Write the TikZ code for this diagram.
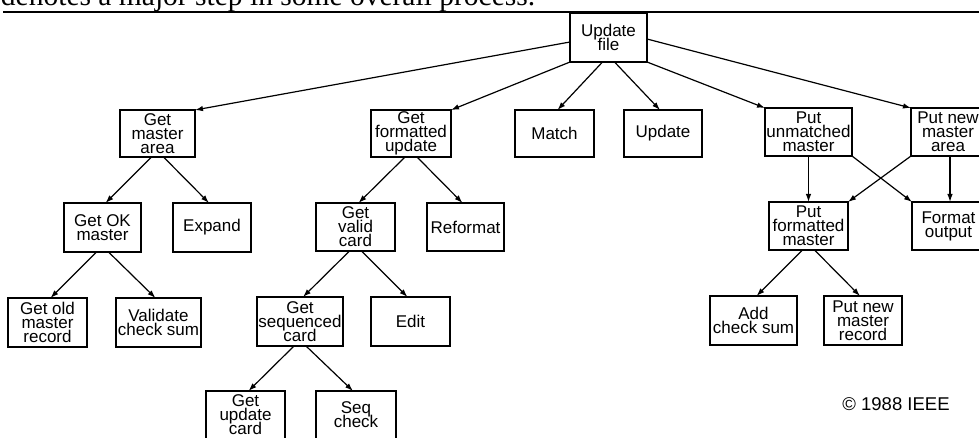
\documentclass[tikz,border=0pt]{standalone}
\usepackage{fontspec}
\setmainfont{Liberation Serif}
\setsansfont{Liberation Sans}
\usepackage{tikz}
\usetikzlibrary{arrows.meta, positioning}

\newcommand{\boxfont}{\sffamily\fontsize{17}{14}\selectfont\lineskiplimit=-20pt\lineskip=0pt}
\tikzset{
  arr/.style={line width=1.2pt, -{Latex[length=8pt, width=5.5pt]}},
  plain/.style={draw=none, minimum height=0pt, minimum width=0pt}
}

\begin{document}
\begin{tikzpicture}[x=1pt, y=-1pt, node distance=0cm, outer sep=0pt, every node/.style={draw, rectangle, line width=1.3pt, inner sep=0pt, minimum height=48pt, align=center, font=\boxfont, anchor=north west}]
        \useasboundingbox (0,0) rectangle (979,438);

        % caption line cut off at the top
        \node (caption) [plain, anchor=base west, font=\fontsize{29.5}{30}\selectfont] at (1,5.5) {denotes a major step in some overall process.};
        \draw[line width=1.3pt] (3,12) -- (979,12);

        % level 0 and 1
        \node (updfile) [minimum width=77pt, minimum height=49pt] at (570,13) {Update\\file};
        \node (getmaster) [minimum width=75pt, minimum height=47pt] at (120,110) {Get\\master\\area};
        \node (getfmt) [minimum width=80pt, minimum height=47pt] at (371,110) {Get\\formatted\\update};
        \node (match) [minimum width=79pt, minimum height=47pt] at (515,110) {Match};
        \node (update) [minimum width=78pt, minimum height=47pt] at (624,110) {Update};
        \node (putunm) [minimum width=87pt] at (765,108) {Put\\unmatched\\master};
        \node (putnew) [minimum width=74pt] at (911,108) {Put new\\master\\area};

        % level 2
        \node (getok) [minimum width=77pt, minimum height=49pt] at (64,203) {Get OK\\master};
        \node (expand) [minimum width=78pt, minimum height=49pt] at (173,203) {Expand};
        \node (getvalid) [minimum width=79pt] at (316,203) {Get\\valid\\card};
        \node (reformat) [minimum width=77pt] at (427,203) {Reformat};
        \node (putfmt) [minimum width=79pt] at (769,202) {Put\\formatted\\master};
        \node (fmtout) [minimum width=73pt] at (912,202) {Format\\output};

        % level 3 and 4
        \node (getold) [minimum width=79pt, minimum height=49pt] at (8,298) {Get old\\master\\record};
        \node (validate) [minimum width=85pt, minimum height=49pt] at (116,298) {Validate\\check sum};
        \node (getseq) [minimum width=86pt, minimum height=49pt] at (257,297) {Get\\sequenced\\card};
        \node (edit) [minimum width=79pt, minimum height=49pt] at (371,297) {Edit};
        \node (addsum) [minimum width=87pt, minimum height=49pt] at (710,296) {Add\\check sum};
        \node (putrec) [minimum width=78pt, minimum height=49pt] at (824,296) {Put new\\master\\record};
        \node (getupd) [minimum width=79pt] at (206,391) {Get\\update\\card};
        \node (seqchk) [minimum width=80pt] at (316,391) {Seq\\check};

        \node (copyr) [plain, anchor=center, font=\sffamily\fontsize{18.5}{20}\selectfont] at (896,404) {© 1988 IEEE};

        % connectors
        \draw[arr] ([yshift=-4.5pt]updfile.west) -- (getmaster.north east);
        \draw[arr] (updfile.south west) -- (getfmt.north east);
        \draw[arr] (updfile.south east) -- (putunm.north west);
        \draw[arr] ([yshift=-1.5pt]updfile.east) -- (putnew.north west);
        \foreach \p/\c in {updfile/match, getmaster/getok, getok/getold, getfmt/getvalid, getvalid/getseq, getseq/getupd, putfmt/addsum}
            \draw[arr] ([xshift=-6pt]\p.south) -- ([xshift=3pt]\c.north);
        \foreach \p/\c in {updfile/update, getmaster/expand, getok/validate, getfmt/reformat, getvalid/edit, getseq/seqchk, putfmt/putrec}
            \draw[arr] ([xshift=6pt]\p.south) -- ([xshift=-3pt]\c.north);
        \draw[arr] (putunm.south) -- (putfmt.north);
        \draw[arr] (putunm.south east) -- (fmtout.north west);
        \draw[arr] (putnew.south west) -- (putfmt.north east);
        \draw[arr] ([xshift=2pt]putnew.south) -- ([xshift=1.5pt]fmtout.north);
    \end{tikzpicture}
\end{document}
